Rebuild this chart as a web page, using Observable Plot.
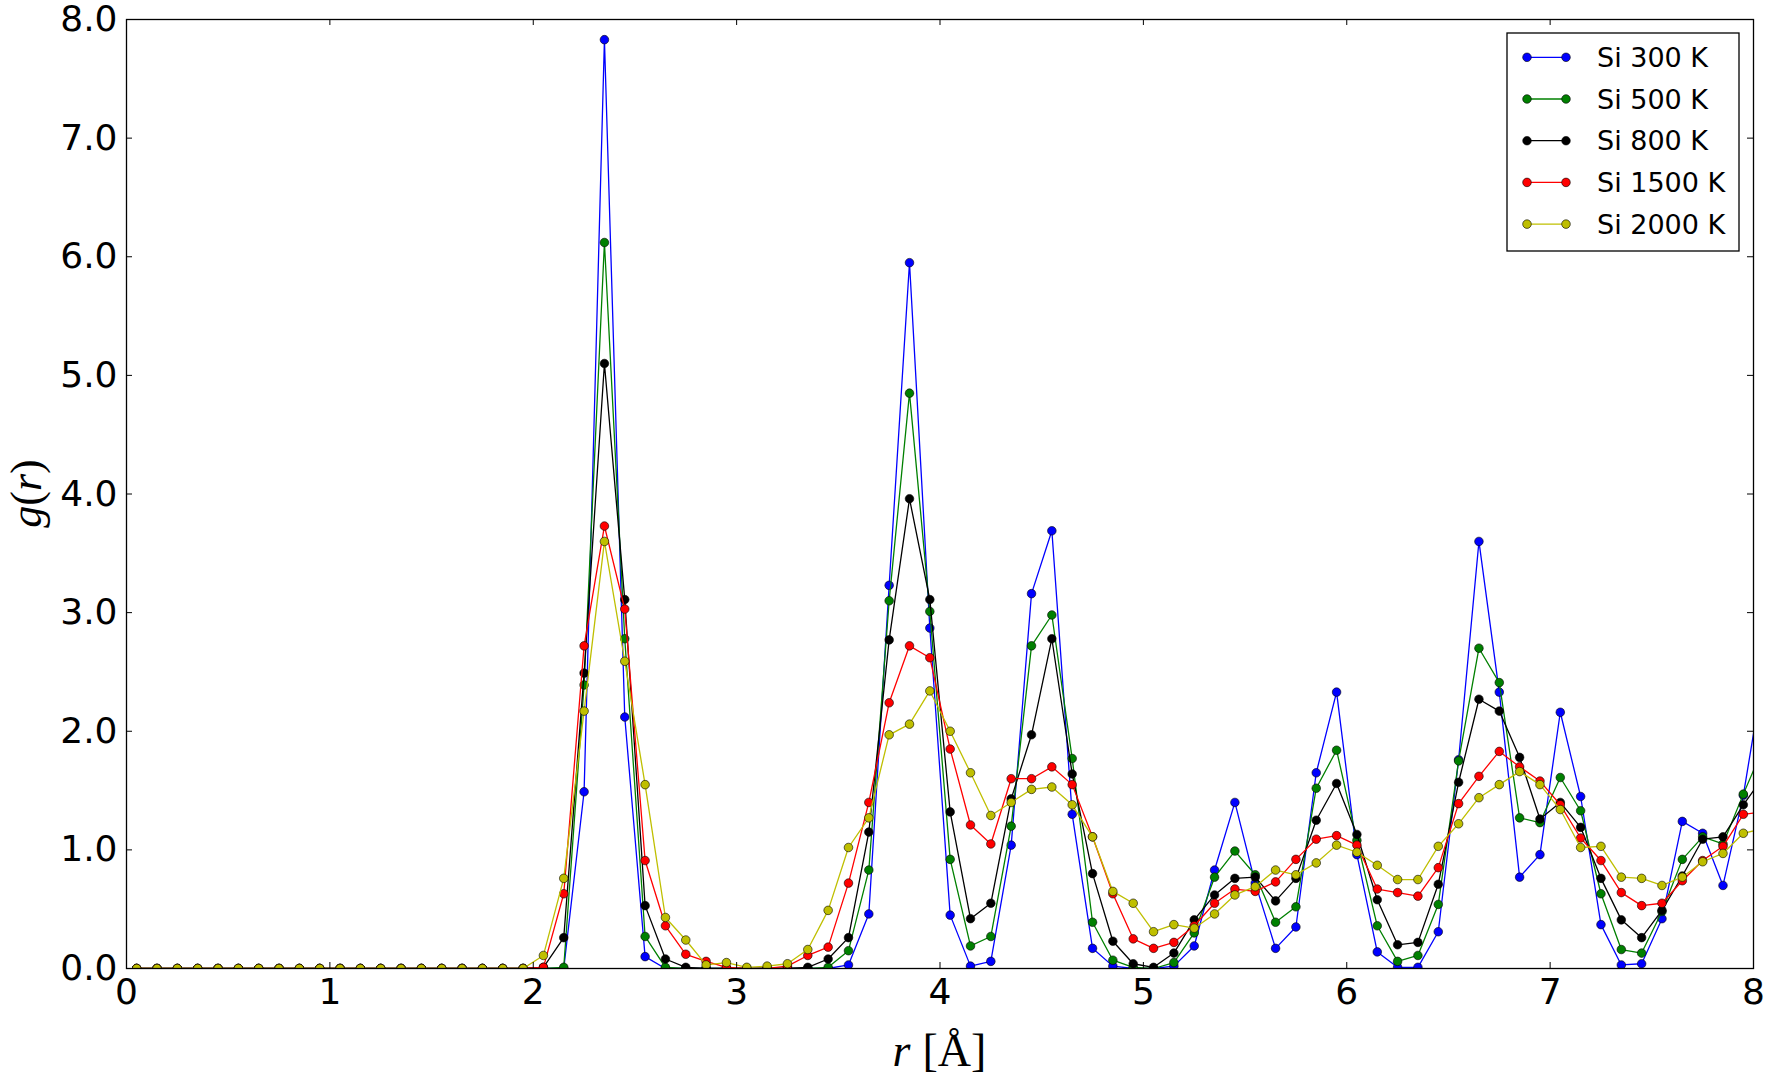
<!DOCTYPE html>
<html>
<head>
<meta charset="utf-8">
<script src="https://cdn.jsdelivr.net/npm/d3@7"></script>
<script src="https://cdn.jsdelivr.net/npm/@observablehq/plot@0.6"></script>
<style>
  html, body { margin: 0; padding: 0; background: #ffffff; }
  #chart { width: 1765px; height: 1075px; }
</style>
</head>
<body>
<div id="chart"></div>
<script>
// ---------- data ----------
const rValues = [
  0.05,0.15,0.25,0.35,0.45,0.55,0.65,0.75,0.85,0.95,
  1.05,1.15,1.25,1.35,1.45,1.55,1.65,1.75,1.85,1.95,
  2.05,2.15,2.25,2.35,2.45,2.55,2.65,2.75,2.85,2.95,
  3.05,3.15,3.25,3.35,3.45,3.55,3.65,3.75,3.85,3.95,
  4.05,4.15,4.25,4.35,4.45,4.55,4.65,4.75,4.85,4.95,
  5.05,5.15,5.25,5.35,5.45,5.55,5.65,5.75,5.85,5.95,
  6.05,6.15,6.25,6.35,6.45,6.55,6.65,6.75,6.85,6.95,
  7.05,7.15,7.25,7.35,7.45,7.55,7.65,7.75,7.85,7.95,
  8.05
];

const si300 = [
  0,0,0,0,0,0,0,0,0,0,
  0,0,0,0,0,0,0,0,0,0,
  0,0,1.49,7.83,2.12,0.10,0.00,0,0,0,
  0,0,0,0,0,0.03,0.46,3.23,5.95,2.87,
  0.45,0.02,0.06,1.04,3.16,3.69,1.30,0.17,0.02,0,
  0,0.02,0.19,0.83,1.40,0.72,0.17,0.35,1.65,2.33,
  0.96,0.14,0.01,0.01,0.31,1.76,3.60,2.33,0.77,0.96,
  2.16,1.45,0.37,0.03,0.04,0.42,1.24,1.14,0.70,1.46,
  2.50
];

const si500 = [
  0,0,0,0,0,0,0,0,0,0,
  0,0,0,0,0,0,0,0,0,0,
  0,0.01,2.39,6.12,2.78,0.27,0.01,0,0,0,
  0,0,0,0,0.01,0.15,0.83,3.10,4.85,3.01,
  0.92,0.19,0.27,1.20,2.72,2.98,1.77,0.39,0.07,0.01,
  0,0.05,0.30,0.77,0.99,0.79,0.39,0.52,1.52,1.84,
  1.08,0.36,0.06,0.11,0.54,1.75,2.70,2.41,1.27,1.23,
  1.61,1.33,0.63,0.16,0.13,0.48,0.92,1.11,1.05,1.47,
  1.87
];

const si800 = [
  0,0,0,0,0,0,0,0,0,0,
  0,0,0,0,0,0,0,0,0,0,
  0.01,0.26,2.49,5.10,3.11,0.53,0.08,0.01,0,0,
  0,0,0,0.01,0.08,0.26,1.15,2.77,3.96,3.11,
  1.32,0.42,0.55,1.43,1.97,2.78,1.64,0.80,0.23,0.04,
  0.01,0.13,0.41,0.62,0.76,0.77,0.57,0.76,1.25,1.56,
  1.13,0.58,0.20,0.22,0.71,1.57,2.27,2.17,1.78,1.26,
  1.40,1.19,0.76,0.41,0.26,0.49,0.78,1.09,1.11,1.38,
  1.62
];

const si1500 = [
  0,0,0,0,0,0,0,0,0,0,
  0,0,0,0,0,0,0,0,0,0,
  0.01,0.63,2.72,3.73,3.03,0.91,0.36,0.12,0.06,0.01,
  0,0,0.02,0.11,0.18,0.72,1.40,2.24,2.72,2.62,
  1.85,1.21,1.05,1.60,1.60,1.70,1.55,1.11,0.63,0.25,
  0.17,0.22,0.36,0.55,0.67,0.65,0.73,0.92,1.09,1.12,
  1.04,0.67,0.64,0.61,0.85,1.39,1.62,1.83,1.70,1.58,
  1.38,1.10,0.91,0.64,0.53,0.55,0.74,0.91,1.03,1.30,
  1.32
];

const si2000 = [
  0,0,0,0,0,0,0,0,0,0,
  0,0,0,0,0,0,0,0,0,0,
  0.11,0.76,2.17,3.60,2.59,1.55,0.43,0.24,0.03,0.05,
  0.01,0.02,0.04,0.16,0.49,1.02,1.27,1.97,2.06,2.34,
  2.00,1.65,1.29,1.40,1.51,1.53,1.38,1.11,0.65,0.55,
  0.31,0.37,0.34,0.46,0.62,0.69,0.83,0.79,0.89,1.04,
  0.98,0.87,0.75,0.75,1.03,1.22,1.44,1.55,1.66,1.55,
  1.34,1.02,1.03,0.77,0.76,0.70,0.77,0.90,0.97,1.14,
  1.18
];

const seriesNames  = ["Si 300 K", "Si 500 K", "Si 800 K", "Si 1500 K", "Si 2000 K"];
const seriesValues = [si300, si500, si800, si1500, si2000];
const seriesColors = ["#0000ff", "#008000", "#000000", "#ff0000", "#bfbf00"];

const xTicks = [0, 1, 2, 3, 4, 5, 6, 7, 8];
const yTicks = [0, 1, 2, 3, 4, 5, 6, 7, 8];
const xDomain = [0, 8];
const yDomain = [0, 8];

// ---------- layout ----------
const W = 1765, H = 1075;
const mL = 126, mR = 12, mT = 19, mB = 107;
const plotW = W - mL - mR;
const plotH = H - mT - mB;
const tickLen = 6;

const tables = seriesValues.map((vals, i) =>
  vals.map((v, k) => ({ r: rValues[k], g: v, s: seriesNames[i] }))
);

const seriesMarks = [];
tables.forEach((tbl, i) => {
  seriesMarks.push(Plot.line(tbl, { x: "r", y: "g", stroke: seriesColors[i], strokeWidth: 1.3, clip: true }));
  seriesMarks.push(Plot.dot(tbl, { x: "r", y: "g", r: 4.3, fill: seriesColors[i], stroke: "#000", strokeWidth: 0.6, clip: true }));
});

const svg = Plot.plot({
  width: W,
  height: H,
  marginLeft: mL,
  marginRight: mR,
  marginTop: mT,
  marginBottom: mB,
  style: { fontFamily: "'DejaVu Sans', sans-serif", fontSize: "36px", background: "#ffffff", color: "#000000", overflow: "visible" },
  x: { domain: xDomain, ticks: xTicks, tickSize: 0, tickPadding: 10, tickFormat: d => String(d), label: null },
  y: { domain: yDomain, ticks: yTicks, tickSize: 0, tickPadding: 9, tickFormat: d => d.toFixed(1), label: null },
  marks: [
    ...seriesMarks,
    Plot.frame({ stroke: "#000", strokeWidth: 1.3 }),
    Plot.tickX(xTicks, { x: d => d, stroke: "#000", strokeWidth: 1, insetTop: plotH - tickLen }),
    Plot.tickX(xTicks, { x: d => d, stroke: "#000", strokeWidth: 1, insetBottom: plotH - tickLen }),
    Plot.tickY(yTicks, { y: d => d, stroke: "#000", strokeWidth: 1, insetRight: plotW - tickLen }),
    Plot.tickY(yTicks, { y: d => d, stroke: "#000", strokeWidth: 1, insetLeft: plotW - tickLen })
  ]
});

document.getElementById("chart").appendChild(svg);

// ---------- axis labels ----------
const s = d3.select(svg);
const serif = "'Liberation Serif', 'DejaVu Serif', serif";

const xl = s.append("text")
  .attr("x", mL + plotW / 2)
  .attr("y", 1066)
  .attr("text-anchor", "middle")
  .attr("font-family", serif)
  .attr("font-size", 46)
  .attr("fill", "#000");
xl.append("tspan").attr("font-style", "italic").text("r");
xl.append("tspan").attr("dx", 12).text("[Å]");

const yl = s.append("text")
  .attr("transform", `translate(41,${mT + plotH / 2}) rotate(-90)`)
  .attr("text-anchor", "middle")
  .attr("font-family", serif)
  .attr("font-size", 44)
  .attr("fill", "#000");
yl.append("tspan").attr("font-style", "italic").text("g");
yl.append("tspan").text("(");
yl.append("tspan").attr("font-style", "italic").text("r");
yl.append("tspan").text(")");

// ---------- legend ----------
const lg = s.append("g");
lg.append("rect")
  .attr("x", 1507).attr("y", 33).attr("width", 232).attr("height", 218)
  .attr("fill", "#fff").attr("stroke", "#000").attr("stroke-width", 1.3);
seriesNames.forEach((name, i) => {
  const cy = 57.3 + i * 41.7;
  lg.append("line").attr("x1", 1527).attr("x2", 1566).attr("y1", cy).attr("y2", cy)
    .attr("stroke", seriesColors[i]).attr("stroke-width", 1.3);
  [1527, 1566].forEach(cx => {
    lg.append("circle").attr("cx", cx).attr("cy", cy).attr("r", 4.3)
      .attr("fill", seriesColors[i]).attr("stroke", "#000").attr("stroke-width", 0.6);
  });
  lg.append("text").attr("x", 1597).attr("y", cy).attr("dy", "0.36em")
    .attr("text-anchor", "start")
    .attr("font-family", "'DejaVu Sans', sans-serif").attr("font-size", 27)
    .attr("fill", "#000").text(name);
});
</script>
</body>
</html>
